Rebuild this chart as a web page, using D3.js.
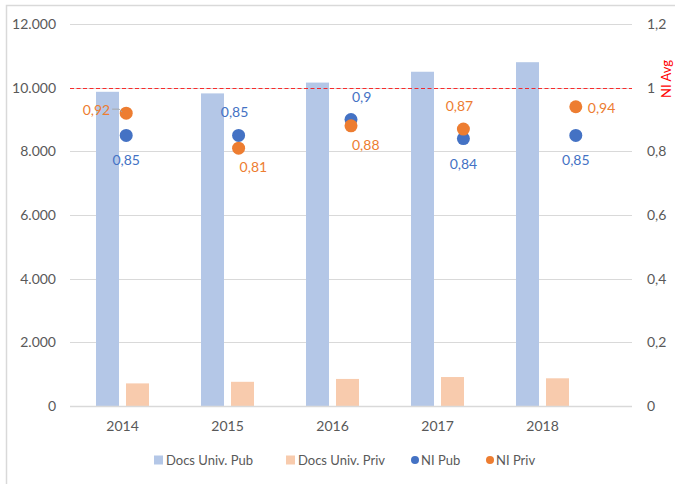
<!DOCTYPE html>
<html>
<head>
<meta charset="utf-8">
<script src="https://cdn.jsdelivr.net/npm/d3@7/dist/d3.min.js"></script>
<style>
  html, body { margin: 0; padding: 0; background: #fff; }
  svg { display: block; font-family: Lato, "Open Sans", sans-serif; }
</style>
</head>
<body>
<svg id="chart" width="675" height="484"></svg>
<script>
// ---- data ----
const years = ["2014", "2015", "2016", "2017", "2018"];
const docsPub = [9870, 9820, 10160, 10500, 10800];
const docsPriv = [710, 760, 850, 910, 870];
const niPub = [0.85, 0.85, 0.90, 0.84, 0.85];
const niPriv = [0.92, 0.81, 0.88, 0.87, 0.94];
const niAvg = 1.0;
const leftTicks = [0, 2000, 4000, 6000, 8000, 10000, 12000];
const rightTicks = [0, 0.2, 0.4, 0.6, 0.8, 1.0, 1.2];
const legendItems = ["Docs Univ. Pub", "Docs Univ. Priv", "NI Pub", "NI Priv"];

// ---- layout (label placement, not data) ----
const pubLabelPlace = ["below", "above", "aboveRight", "below", "below"];
const privLabelPlace = ["left", "belowRight", "belowRight", "above", "right"];

const colors = {
  pubBar: "#B4C7E7", privBar: "#F8CBAD",
  pubDot: "#4472C4", privDot: "#ED7D31",
  grid: "#D9D9D9", text: "#595959", avg: "#FF0000"
};

const svg = d3.select("#chart");
const L = 70, R = 632, T = 24, B = 406;

const yLeft = d3.scaleLinear().domain([0, 12000]).range([B, T]);
const yRight = d3.scaleLinear().domain([0, 1.2]).range([B, T]);
const xBars = d3.scaleBand().domain(years).range([L, 595]);
const xDots = d3.scaleBand().domain(years).range([L, R]);

// border
svg.append("rect").attr("x", 6.5).attr("y", 5.5).attr("width", 700).attr("height", 500)
  .attr("fill", "none").attr("stroke", colors.grid).attr("stroke-width", 1.5);

// gridlines
svg.append("g").selectAll("line").data(leftTicks).join("line")
  .attr("x1", L).attr("x2", R)
  .attr("y1", d => Math.round(yLeft(d)) + 0.5).attr("y2", d => Math.round(yLeft(d)) + 0.5)
  .attr("stroke", colors.grid).attr("stroke-width", 1);

// left axis
const fmtLeft = d => d3.format(",")(d).replace(/,/g, ".");
const gL = svg.append("g").attr("transform", `translate(56,0)`)
  .call(d3.axisLeft(yLeft).tickValues(leftTicks).tickFormat(fmtLeft).tickSize(0).tickPadding(0));
gL.select(".domain").remove();
gL.selectAll("text").attr("fill", colors.text).style("font-size", "14px").style("font-family", "Lato, sans-serif");

// right axis
const fmtRight = d => d3.format(".1~f")(d).replace(".", ",");
const gR = svg.append("g").attr("transform", `translate(647,0)`)
  .call(d3.axisRight(yRight).tickValues(rightTicks).tickFormat(fmtRight).tickSize(0).tickPadding(0));
gR.select(".domain").remove();
gR.selectAll("text").attr("fill", colors.text).style("font-size", "14px").style("font-family", "Lato, sans-serif");

// bars
const bw = 23, gap = 7;
svg.append("g").selectAll("rect").data(years).join("rect")
  .attr("x", (d) => xBars(d) + xBars.bandwidth() / 2 - gap / 2 - bw)
  .attr("y", (d, i) => yLeft(docsPub[i]))
  .attr("width", bw)
  .attr("height", (d, i) => B - yLeft(docsPub[i]))
  .attr("fill", colors.pubBar);
svg.append("g").selectAll("rect").data(years).join("rect")
  .attr("x", (d) => xBars(d) + xBars.bandwidth() / 2 + gap / 2)
  .attr("y", (d, i) => yLeft(docsPriv[i]))
  .attr("width", bw)
  .attr("height", (d, i) => B - yLeft(docsPriv[i]))
  .attr("fill", colors.privBar);

// baseline
svg.append("line").attr("x1", L).attr("x2", R).attr("y1", B + 0.5).attr("y2", B + 0.5)
  .attr("stroke", colors.grid).attr("stroke-width", 1.5);

// NI avg line
svg.append("line").attr("x1", L).attr("x2", R)
  .attr("y1", Math.round(yRight(niAvg)) + 0.5).attr("y2", Math.round(yRight(niAvg)) + 0.5)
  .attr("stroke", colors.avg).attr("stroke-opacity", 0.8).attr("stroke-width", 1.2).attr("stroke-dasharray", "4,2.5");

// x axis labels
const gX = svg.append("g").attr("transform", `translate(0,${B + 15})`)
  .call(d3.axisBottom(xBars).tickSize(0).tickPadding(0));
gX.select(".domain").remove();
gX.selectAll("text").attr("fill", colors.text).style("font-size", "14px").style("font-family", "Lato, sans-serif");

// dots
const cx = d => xDots(d) + xDots.bandwidth() / 2;
svg.append("g").selectAll("circle").data(years).join("circle")
  .attr("cx", cx).attr("cy", (d, i) => yRight(niPub[i])).attr("r", 6.5).attr("fill", colors.pubDot);
svg.append("g").selectAll("circle").data(years).join("circle")
  .attr("cx", cx).attr("cy", (d, i) => yRight(niPriv[i])).attr("r", 6.5).attr("fill", colors.privDot);

// labels
const fmtNI = d => d3.format("~g")(d).replace(".", ",");
function placeLabel(g, x, y, place, text, color) {
  let tx = x, ty = y, anchor = "middle";
  if (place === "below") { ty = y + 25; }
  else if (place === "above") { ty = y - 23; tx = x - 4; }
  else if (place === "aboveRight") { ty = y - 22; tx = x + 1; anchor = "start"; }
  else if (place === "belowRight") { ty = y + 19; tx = x + 1; anchor = "start"; }
  else if (place === "left") { tx = x - 16; ty = y - 3; anchor = "end"; }
  else if (place === "right") { tx = x + 12; ty = y + 1; anchor = "start"; }
  g.append("text").attr("x", tx).attr("y", ty).attr("dy", "0.35em")
    .attr("text-anchor", anchor).attr("fill", color)
    .style("font-size", "14px").text(text);
  if (place === "left") {
    g.append("path").attr("d", `M${x - 14},${y - 4}H${x - 7}L${x - 4},${y - 1}`)
      .attr("fill", "none").attr("stroke", "#A6A6A6").attr("stroke-width", 1);
  }
}
const gLab = svg.append("g");
years.forEach((yr, i) => {
  placeLabel(gLab, cx(yr), yRight(niPub[i]), pubLabelPlace[i], fmtNI(niPub[i]), colors.pubDot);
  placeLabel(gLab, cx(yr), yRight(niPriv[i]), privLabelPlace[i], fmtNI(niPriv[i]), colors.privDot);
});

// NI Avg title
svg.append("text").attr("transform", `translate(671,79) rotate(-90)`)
  .attr("text-anchor", "middle").attr("fill", colors.avg)
  .style("font-size", "13px").text("NI Avg");

// legend
const lg = svg.append("g").attr("transform", "translate(0,460)");
const legX = [154, 286, 415, 490];
const legTypes = ["rect", "rect", "circle", "circle"];
const legColors = [colors.pubBar, colors.privBar, colors.pubDot, colors.privDot];
legendItems.forEach((t, i) => {
  if (legTypes[i] === "rect") {
    lg.append("rect").attr("x", legX[i]).attr("y", -4.5).attr("width", 9).attr("height", 9).attr("fill", legColors[i]);
    lg.append("text").attr("x", legX[i] + 12).attr("y", 0).attr("dy", "0.35em")
      .attr("fill", colors.text).style("font-size", "13px").text(t);
  } else {
    lg.append("circle").attr("cx", legX[i]).attr("cy", 0).attr("r", 4).attr("fill", legColors[i]);
    lg.append("text").attr("x", legX[i] + 6).attr("y", 0).attr("dy", "0.35em")
      .attr("fill", colors.text).style("font-size", "13px").text(t);
  }
});
</script>
</body>
</html>
